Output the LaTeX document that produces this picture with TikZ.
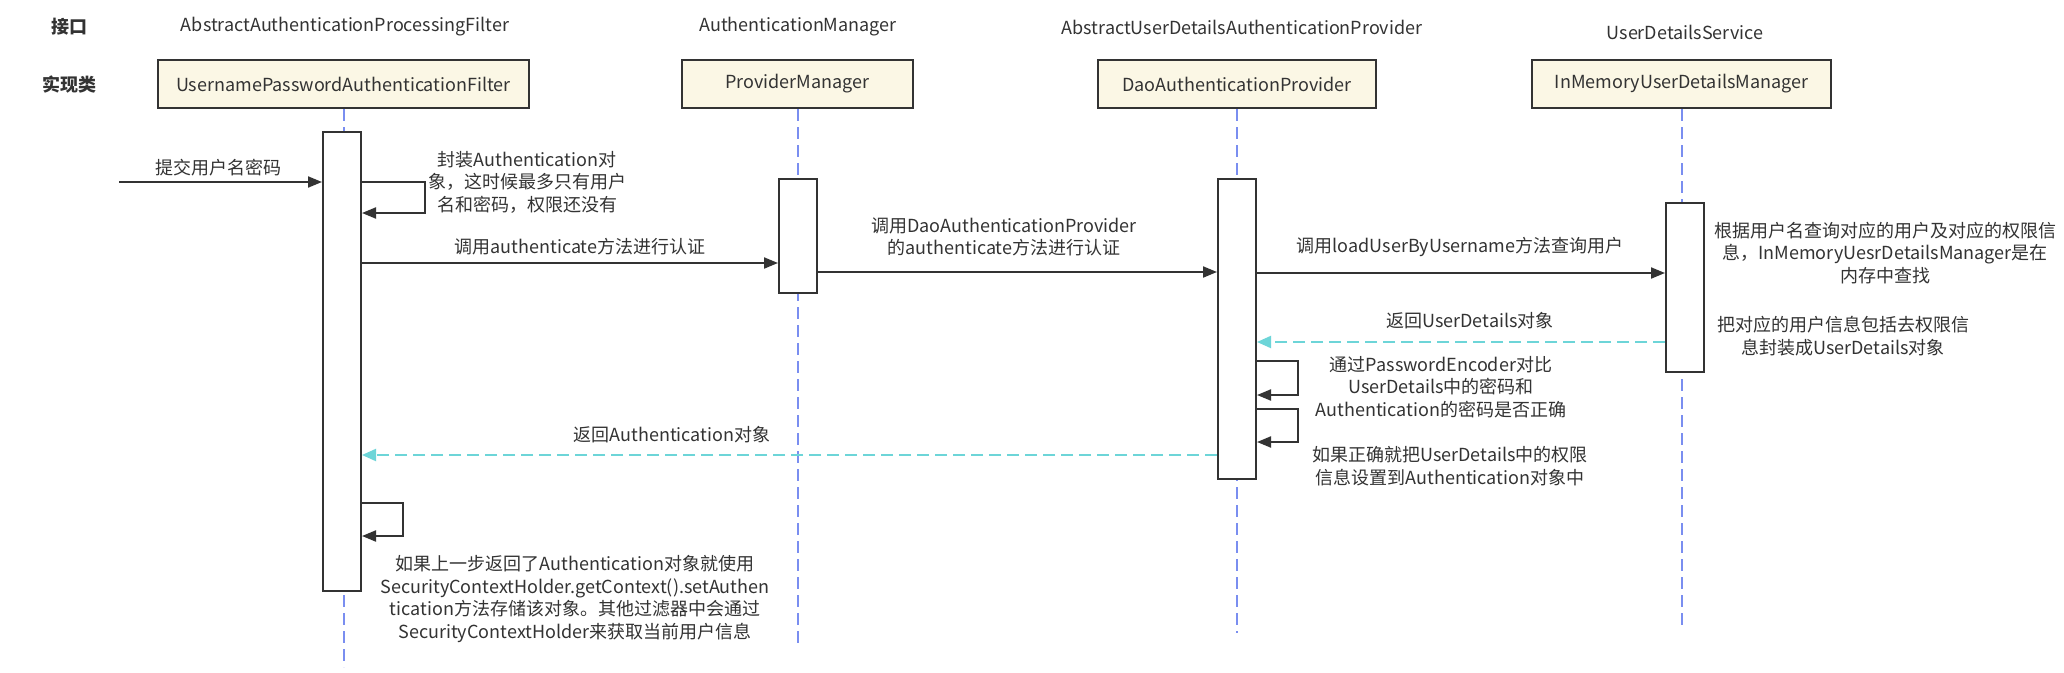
\documentclass[tikz,border=0pt]{standalone}
\usepackage{fontspec}
\setmainfont{Noto Sans CJK SC}
\usetikzlibrary{arrows.meta}
\definecolor{ink}{HTML}{333333}
\definecolor{boxfill}{HTML}{FBF7E5}
\definecolor{lifeblue}{HTML}{7A8EF0}
\definecolor{retcyan}{HTML}{6DD5D8}
\begin{document}
\begin{tikzpicture}[x=1pt,y=-1pt,
  txt/.style={font=\fontsize{18}{22.5}\selectfont, text=ink, inner sep=0pt, align=center},
  head/.style={font=\fontsize{18}{22.5}\selectfont\bfseries, text=ink, inner sep=0pt},
  actor/.style={draw=ink, line width=2pt, fill=boxfill, minimum height=48pt, inner sep=0pt, font=\fontsize{18}{22.5}\selectfont, text=ink},
  bar/.style={draw=ink, line width=2pt, fill=white, minimum width=38pt, inner sep=0pt},
  life/.style={draw=lifeblue, line width=2pt, dash pattern=on 12pt off 6pt},
  msg/.style={draw=ink, line width=2pt, -{Triangle[length=14pt,width=11pt]}},
  ret/.style={draw=retcyan, line width=2pt, dash pattern=on 12pt off 6pt, -{Triangle[length=14pt,width=12pt]}},
]
\fill[white] (0,0) rectangle (2064,672);
\useasboundingbox (0,0) rectangle (2064,672);

% headers
\node[head] (hIf) at (69,27) {接口};
\node[head] (hImpl) at (69,85) {实现类};

% interface names
\node[txt] (i1) at (345,27) {AbstractAuthenticationProcessingFilter};
\node[txt] (i2) at (798,27) {AuthenticationManager};
\node[txt] (i3) at (1242,27) {AbstractUserDetailsAuthenticationProvider};
\node[txt] (i4) at (1685,32) {UserDetailsService};

% actor boxes
\node[actor, minimum width=371pt] (a1) at (343.5,84) {UsernamePasswordAuthenticationFilter};
\node[actor, minimum width=231pt] (a2) at (797.5,84) {ProviderManager};
\node[actor, minimum width=278pt] (a3) at (1237,84) {DaoAuthenticationProvider};
\node[actor, minimum width=299pt] (a4) at (1681.5,84) {InMemoryUserDetailsManager};

% lifeline ends
\coordinate (e1) at (343.5,667);
\coordinate (e2) at (797.5,648);
\coordinate (e3) at (1237,633);
\coordinate (e4) at (1681.5,627);
\draw[life] (a1.south) -- (e1);
\draw[life] (a2.south) -- (e2);
\draw[life] (a3.south) -- (e3);
\draw[life] (a4.south) -- (e4);

% activation bars
\node[bar, minimum height=459pt] (b1) at (342,361.5) {};
\node[bar, minimum height=114pt] (b2) at (798,236) {};
\node[bar, minimum height=300pt] (b3) at (1237,329) {};
\node[bar, minimum height=169pt] (b4) at (1685,287.5) {};

% y levels
\coordinate (start) at (119,182);
\coordinate (y1) at (0,182);
\coordinate (y1b) at (0,213);
\coordinate (y2) at (0,263);
\coordinate (y3) at (0,272);
\coordinate (y4) at (0,273);
\coordinate (y5) at (0,342);
\coordinate (y6) at (0,361);
\coordinate (y6b) at (0,395);
\coordinate (y7) at (0,409);
\coordinate (y7b) at (0,442);
\coordinate (y8) at (0,455);
\coordinate (y9) at (0,503);
\coordinate (y9b) at (0,536);
\coordinate (c1) at (425,0);
\coordinate (c3) at (1298,0);
\coordinate (c9) at (403,0);

% messages
\draw[msg] (start) -- (b1.west |- y1);
\node[txt] (l0) at (218,168) {提交用户名密码};

\draw[msg] (b1.east |- y1) -- (c1 |- y1) -- (c1 |- y1b) -- (b1.east |- y1b);
\node[txt] (l1) at (527,182) {封装Authentication对\\象，这时候最多只有用户\\名和密码，权限还没有};

\draw[msg] (b1.east |- y2) -- (b2.west |- y2);
\node[txt] (l2) at (580,247) {调用authenticate方法进行认证};

\draw[msg] (b2.east |- y3) -- (b3.west |- y3);
\node[txt] (l3) at (1004,237) {调用DaoAuthenticationProvider\\的authenticate方法进行认证};

\draw[msg] (b3.east |- y4) -- (b4.west |- y4);
\node[txt] (l4) at (1460,247) {调用loadUserByUsername方法查询用户};

\node[txt] (n4) at (1885,253) {根据用户名查询对应的用户及对应的权限信\\息，InMemoryUesrDetailsManager是在\\内存中查找};
\node[txt] (n4b) at (1843,336) {把对应的用户信息包括去权限信\\息封装成UserDetails对象};

\draw[ret] (b4.west |- y5) -- (b3.east |- y5);
\node[txt] (l5) at (1470,321) {返回UserDetails对象};

\draw[msg] (b3.east |- y6) -- (c3 |- y6) -- (c3 |- y6b) -- (b3.east |- y6b);
\node[txt] (l6) at (1441,387) {通过PasswordEncoder对比\\UserDetails中的密码和\\Authentication的密码是否正确};

\draw[msg] (b3.east |- y7) -- (c3 |- y7) -- (c3 |- y7b) -- (b3.east |- y7b);
\node[txt] (l7) at (1450,466) {如果正确就把UserDetails中的权限\\信息设置到Authentication对象中};

\draw[ret] (b3.west |- y8) -- (b1.east |- y8);
\node[txt] (l8) at (672,435) {返回Authentication对象};

\draw[msg] (b1.east |- y9) -- (c9 |- y9) -- (c9 |- y9b) -- (b1.east |- y9b);
\node[txt] (l9) at (575,599) {如果上一步返回了Authentication对象就使用\\SecurityContextHolder.getContext().setAuthen\\tication方法存储该对象。其他过滤器中会通过\\SecurityContextHolder来获取当前用户信息};
\end{tikzpicture}
\end{document}
